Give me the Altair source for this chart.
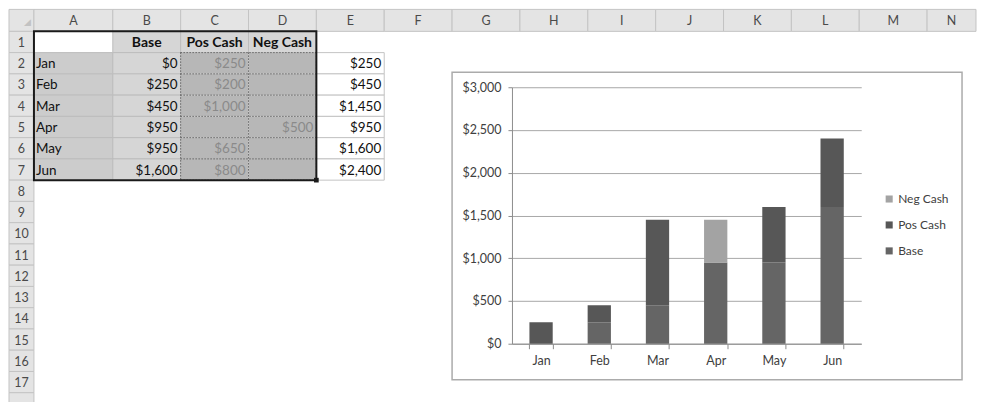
import altair as alt
import pandas as pd

# ---------------- data ----------------
months = ["Jan", "Feb", "Mar", "Apr", "May", "Jun"]
base = [0, 250, 450, 950, 950, 1600]
pos_cash = [250, 200, 1000, None, 650, 800]
neg_cash = [None, None, None, 500, None, None]
totals = [250, 450, 1450, 950, 1600, 2400]
series = ["Base", "Pos Cash", "Neg Cash"]
legend_order = ["Neg Cash", "Pos Cash", "Base"]
y_ticks = [0, 500, 1000, 1500, 2000, 2500, 3000]
col_letters = ["A", "B", "C", "D", "E", "F", "G", "H", "I", "J", "K", "L", "M", "N"]
row_numbers = list(range(1, 19))

# ---------------- layout / style constants ----------------
FONT = "Lato"
ROWHDR_W, COL_A_W, COL_W = 25, 79, 68
HDR_H, ROW_H = 22, 21.3
SHEET_W, SHEET_H = 969, 394
PLOT_X0, PLOT_Y0 = 504, 78       # where the chart's plot area sits on the sheet
PLOT_W, PLOT_H = 350, 257
FRAME = (444, 955, 63, 371)      # embedded chart object outline on the sheet
BAR_COLORS = {"Base": "#656565", "Pos Cash": "#575757", "Neg Cash": "#a3a3a3"}

edges = [0, ROWHDR_W, ROWHDR_W + COL_A_W]
for _ in col_letters[1:]:
    edges.append(edges[-1] + COL_W)


def cx(letter):
    i = col_letters.index(letter)
    return edges[i + 1], min(edges[i + 2], SHEET_W)


def ry(r):
    top = HDR_H + (r - 1) * ROW_H
    return top, min(top + ROW_H, SHEET_H)


def money(v):
    return f"${v:,.0f}"


# ---------------- sheet tables ----------------
cells = []
cells.append(dict(x1=0, x2=ROWHDR_W, y1=0, y2=HDR_H, fill="#e4e4e4", stroke="#c4c4c4"))
for c in col_letters:
    a, b = cx(c)
    if a < SHEET_W:
        cells.append(dict(x1=a, x2=b, y1=0, y2=HDR_H, fill="#e4e4e4", stroke="#c4c4c4"))
for r in row_numbers:
    t, b = ry(r)
    if t < SHEET_H:
        cells.append(dict(x1=0, x2=ROWHDR_W, y1=t, y2=b, fill="#e4e4e4", stroke="#c4c4c4"))
for c in ["B", "C", "D"]:
    a, b = cx(c)
    t, bb = ry(1)
    cells.append(dict(x1=a, x2=b, y1=t, y2=bb, fill="#d6d6d6", stroke="#bdbdbd"))
for i in range(len(months)):
    r = i + 2
    t, bb = ry(r)
    a, b = cx("A")
    cells.append(dict(x1=a, x2=b, y1=t, y2=bb, fill="#cccccc", stroke="#bdbdbd"))
    a, b = cx("B")
    cells.append(dict(x1=a, x2=b, y1=t, y2=bb, fill="#d6d6d6", stroke="#bdbdbd"))
    for c in ["C", "D"]:
        a, b = cx(c)
        cells.append(dict(x1=a, x2=b, y1=t, y2=bb, fill="#b7b7b7", stroke="transparent"))
    a, b = cx("E")
    cells.append(dict(x1=a, x2=b, y1=t, y2=bb, fill="#ffffff", stroke="#c4c4c4"))
cells_df = pd.DataFrame(cells)

# dotted copy marquee around C2:D7
dots = []
cl, _ = cx("C")
_, dr = cx("D")
for r in range(2, len(months) + 3):
    t, _ = ry(r)
    dots.append(dict(x=cl, x2=dr, y=t, y2=t))
t_top, _ = ry(2)
_, t_bot = ry(len(months) + 1)
for c in ["C", "D"]:
    a, b = cx(c)
    dots.append(dict(x=a, x2=a, y=t_top, y2=t_bot))
dots.append(dict(x=dr, x2=dr, y=t_top, y2=t_bot))
dots_df = pd.DataFrame(dots)

# thick selection border A1:D7
al, _ = cx("A")
sel_top, _ = ry(1)
sel_df = pd.DataFrame([dict(x1=al, x2=dr, y1=sel_top, y2=t_bot)])
handle_df = pd.DataFrame([dict(x=dr, y=t_bot)])

frame_df = pd.DataFrame([dict(x1=FRAME[0], x2=FRAME[1], y1=FRAME[2], y2=FRAME[3])])

# texts
txt_center, txt_left, txt_right, txt_bold = [], [], [], []
for c in col_letters:
    a, b = cx(c)
    if a + 20 < SHEET_W:
        txt_center.append(dict(tx=(a + b) / 2, ty=HDR_H / 2 + 1, label=c, color="#4a4a4a"))
for r in row_numbers:
    t, b = ry(r)
    if t + ROW_H <= SHEET_H:
        txt_center.append(dict(tx=ROWHDR_W / 2, ty=t + ROW_H / 2 + 1, label=str(r), color="#4a4a4a"))
for c, s in zip(["B", "C", "D"], series):
    a, b = cx(c)
    t, bb = ry(1)
    txt_bold.append(dict(tx=(a + b) / 2, ty=(t + bb) / 2 + 1, label=s, color="#111111"))
for i, m in enumerate(months):
    t, bb = ry(i + 2)
    mid = (t + bb) / 2 + 1
    a, b = cx("A")
    txt_left.append(dict(tx=a + 2, ty=mid, label=m, color="#111111"))
    a, b = cx("B")
    txt_right.append(dict(tx=b - 3, ty=mid, label=money(base[i]), color="#111111"))
    if pos_cash[i] is not None:
        a, b = cx("C")
        txt_right.append(dict(tx=b - 3, ty=mid, label=money(pos_cash[i]), color="#8a8a8a"))
    if neg_cash[i] is not None:
        a, b = cx("D")
        txt_right.append(dict(tx=b - 3, ty=mid, label=money(neg_cash[i]), color="#8a8a8a"))
    a, b = cx("E")
    txt_right.append(dict(tx=b - 3, ty=mid, label=money(totals[i]), color="#111111"))

sx = alt.Scale(domain=[0, SHEET_W], range=[-PLOT_X0, SHEET_W - PLOT_X0], nice=False, zero=False)
sy = alt.Scale(domain=[0, SHEET_H], range=[-PLOT_Y0, SHEET_H - PLOT_Y0], nice=False, zero=False)

cell_layer = alt.Chart(cells_df).mark_rect(strokeWidth=1).encode(
    x=alt.X("x1:Q", scale=sx, axis=None),
    x2="x2:Q",
    y=alt.Y("y1:Q", scale=sy, axis=None),
    y2="y2:Q",
    fill=alt.Fill("fill:N", scale=None),
    stroke=alt.Stroke("stroke:N", scale=None),
)
dot_layer = alt.Chart(dots_df).mark_rule(color="#3a3a3a", strokeWidth=1, strokeDash=[1, 2]).encode(
    x=alt.X("x:Q", scale=sx, axis=None), x2="x2:Q",
    y=alt.Y("y:Q", scale=sy, axis=None), y2="y2:Q",
)
sel_layer = alt.Chart(sel_df).mark_rect(fill=None, stroke="#1a1a1a", strokeWidth=2).encode(
    x=alt.X("x1:Q", scale=sx, axis=None), x2="x2:Q",
    y=alt.Y("y1:Q", scale=sy, axis=None), y2="y2:Q",
)
handle_layer = alt.Chart(handle_df).mark_square(size=22, color="#1a1a1a", opacity=1).encode(
    x=alt.X("x:Q", scale=sx, axis=None), y=alt.Y("y:Q", scale=sy, axis=None),
)


def text_layer(rows, align, weight="normal", size=13.5):
    return alt.Chart(pd.DataFrame(rows)).mark_text(
        align=align, baseline="middle", font=FONT, fontSize=size, fontWeight=weight
    ).encode(
        x=alt.X("tx:Q", scale=sx, axis=None),
        y=alt.Y("ty:Q", scale=sy, axis=None),
        text="label:N",
        color=alt.Color("color:N", scale=None),
    )


corner_layer = alt.Chart(pd.DataFrame([dict(tx=ROWHDR_W - 3, ty=HDR_H - 4, label="◢")])).mark_text(
    align="right", baseline="bottom", fontSize=9, color="#c2c2c2"
).encode(x=alt.X("tx:Q", scale=sx, axis=None), y=alt.Y("ty:Q", scale=sy, axis=None), text="label:N")

frame_layer = alt.Chart(frame_df).mark_rect(fill=None, stroke="#ababab", strokeWidth=1.5).encode(
    x=alt.X("x1:Q", scale=sx, axis=None), x2="x2:Q",
    y=alt.Y("y1:Q", scale=sy, axis=None), y2="y2:Q",
)

sheet = alt.layer(
    cell_layer, dot_layer, sel_layer, handle_layer, corner_layer,
    text_layer(txt_center, "center", size=12.5),
    text_layer(txt_left, "left"),
    text_layer(txt_right, "right"),
    text_layer(txt_bold, "center", weight="bold", size=14),
    frame_layer,
)

# ---------------- stacked bar chart ----------------
bar_rows = []
for i, m in enumerate(months):
    for k, (s, vals) in enumerate(zip(series, [base, pos_cash, neg_cash])):
        v = vals[i]
        if v is not None:
            bar_rows.append(dict(month=m, series=s, value=v, k=k))
bar_df = pd.DataFrame(bar_rows)

bars = alt.Chart(bar_df).mark_bar().encode(
    x=alt.X(
        "month:N", sort=months,
        scale=alt.Scale(paddingInner=0.6, paddingOuter=0.3),
        axis=alt.Axis(
            title=None, orient="bottom", labelAngle=0, tickBand="extent",
            labelFont=FONT, labelFontSize=12.5, labelColor="#404040", labelPadding=6,
            tickSize=5, tickColor="#8c8c8c", domainColor="#8c8c8c", grid=False,
        ),
    ),
    y=alt.Y(
        "value:Q", stack="zero",
        scale=alt.Scale(domain=[0, 3000], nice=False),
        axis=alt.Axis(
            title=None, orient="left", values=y_ticks, format="$,.0f",
            labelFont=FONT, labelFontSize=12.5, labelColor="#404040", labelPadding=7,
            tickSize=4, tickColor="#8c8c8c", domainColor="#8c8c8c",
            grid=True, gridColor="#a8a8a8", gridWidth=1,
        ),
    ),
    color=alt.Color(
        "series:N",
        scale=alt.Scale(domain=legend_order, range=[BAR_COLORS[s] for s in legend_order]),
        legend=alt.Legend(
            title=None, orient="none", legendX=372, legendY=106,
            symbolType="square", symbolSize=50, symbolStrokeWidth=0,
            labelFont=FONT, labelFontSize=12, labelColor="#404040", rowPadding=14,
            labelOffset=3,
        ),
    ),
    order=alt.Order("k:Q", sort="ascending"),
)

chart = alt.layer(sheet, bars).resolve_scale(
    x="independent", y="independent"
).properties(
    width=PLOT_W, height=PLOT_H, padding=0, background="white"
).configure_view(stroke=None)

chart.save("out.html", embed_options={"renderer": "svg", "actions": False})
